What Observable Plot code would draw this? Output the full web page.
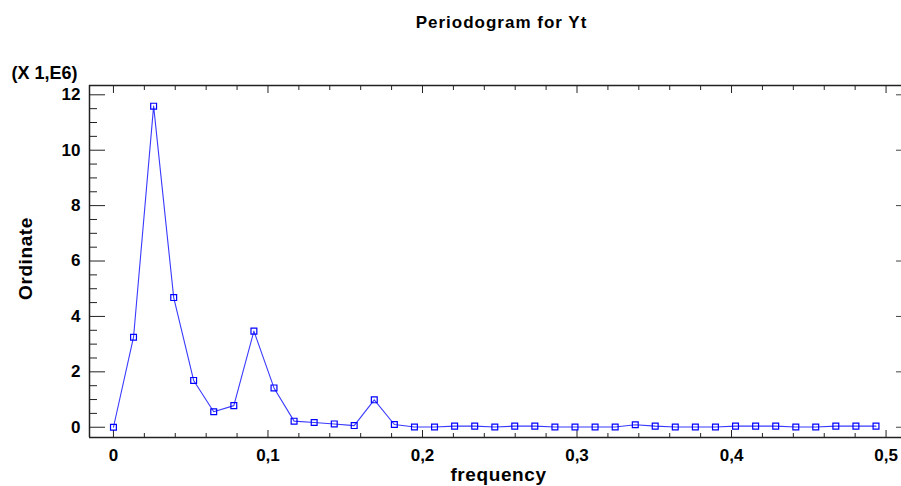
<!DOCTYPE html>
<html>
<head>
<meta charset="utf-8">
<script src="https://cdn.jsdelivr.net/npm/d3@7"></script>
<script src="https://cdn.jsdelivr.net/npm/@observablehq/plot@0.6"></script>
<style>
  html, body { margin: 0; padding: 0; background: #fff; overflow: hidden; }
  #chart svg { display: block; }
</style>
</head>
<body>
<div id="chart"></div>
<script>
// ---- data ----
const frequency = [0, 0.0130, 0.0260, 0.0390, 0.0519, 0.0649, 0.0779, 0.0909, 0.1039, 0.1169,
  0.1299, 0.1429, 0.1558, 0.1688, 0.1818, 0.1948, 0.2078, 0.2208, 0.2338, 0.2468,
  0.2597, 0.2727, 0.2857, 0.2987, 0.3117, 0.3247, 0.3377, 0.3506, 0.3636, 0.3766,
  0.3896, 0.4026, 0.4156, 0.4286, 0.4416, 0.4545, 0.4675, 0.4805, 0.4935];
const ordinate = [0, 3.25, 11.59, 4.68, 1.69, 0.56, 0.78, 3.47, 1.42, 0.22,
  0.17, 0.12, 0.06, 0.99, 0.10, 0.01, 0.01, 0.04, 0.04, 0.01,
  0.04, 0.04, 0.01, 0.01, 0.01, 0.01, 0.09, 0.04, 0.01, 0.01,
  0.01, 0.04, 0.04, 0.04, 0.01, 0.01, 0.04, 0.04, 0.04];
const xMajorTicks = [0, 0.1, 0.2, 0.3, 0.4, 0.5];
const xMinorTicks = [0.02, 0.04, 0.06, 0.08, 0.12, 0.14, 0.16, 0.18, 0.22, 0.24, 0.26, 0.28,
  0.32, 0.34, 0.36, 0.38, 0.42, 0.44, 0.46, 0.48];
const yMajorTicks = [0, 2, 4, 6, 8, 10, 12];
const yMinorTicks = [0.5, 1, 1.5, 2.5, 3, 3.5, 4.5, 5, 5.5, 6.5, 7, 7.5, 8.5, 9, 9.5, 10.5, 11, 11.5];
const xDomain = [-0.0155, 0.51];
const yDomain = [-0.37, 12.336];
const titleText = "Periodogram for Yt";
const xLabel = "frequency";
const yLabel = "Ordinate";
const scaleNote = "(X 1,E6)";

const data = frequency.map((f, i) => ({frequency: f, ordinate: ordinate[i]}));
const fmt = d => String(d).replace(".", ",");
const ink = "#222";
const blue = "#0000ff";
const font = "'Liberation Sans', Arial, sans-serif";

const chart = Plot.plot({
  width: 901,
  height: 486,
  marginLeft: 89,
  marginRight: 0,
  marginTop: 85,
  marginBottom: 49,
  style: {fontFamily: font, fontWeight: "bold", fontSize: "17px", color: "#000", background: "#fff"},
  x: {domain: xDomain},
  y: {domain: yDomain},
  marks: [
    // frame lines (left, top, bottom)
    Plot.ruleX([xDomain[0]], {stroke: ink, strokeWidth: 1.5}),
    Plot.ruleY([yDomain[0]], {stroke: ink, strokeWidth: 1.5}),
    Plot.ruleY([yDomain[1]], {stroke: ink, strokeWidth: 1.5}),
    // y axes (inward ticks)
    Plot.axisY(yMajorTicks, {anchor: "left", tickSize: -16, tickPadding: 25, tickFormat: fmt, stroke: ink, fill: "#000", fontSize: 17, label: null}),
    Plot.axisY(yMinorTicks, {anchor: "left", tickSize: -8, tickFormat: () => "", stroke: ink, label: null}),
    Plot.axisY(yMajorTicks, {anchor: "right", tickSize: -6, tickFormat: () => "", stroke: "#444", label: null}),
    // x axes (inward ticks)
    Plot.axisX(xMajorTicks, {anchor: "bottom", tickSize: -7, tickPadding: 18, tickFormat: fmt, stroke: ink, fill: "#000", fontSize: 17, label: null}),
    Plot.axisX(xMinorTicks, {anchor: "bottom", tickSize: -4, tickFormat: () => "", stroke: ink, label: null}),
    Plot.axisX(xMajorTicks, {anchor: "top", tickSize: -7, tickFormat: () => "", stroke: ink, label: null}),
    Plot.axisX(xMinorTicks, {anchor: "top", tickSize: -4, tickFormat: () => "", stroke: ink, label: null}),
    // series
    Plot.line(data, {x: "frequency", y: "ordinate", stroke: "#3a3aff", strokeWidth: 1.1}),
    Plot.dot(data, {x: "frequency", y: "ordinate", symbol: "square", r: 3.3, stroke: blue, strokeWidth: 1.2, fill: "none"}),
    // texts
    Plot.text([titleText], {frameAnchor: "top", lineAnchor: "top", textAnchor: "middle", dx: 6, dy: -70, fontSize: 17, fontWeight: "bold", fill: "#000"}),
    Plot.text([scaleNote], {frameAnchor: "top-left", lineAnchor: "top", textAnchor: "start", dx: -78, dy: -19, fontSize: 18, fontWeight: "bold", fill: "#000"}),
    Plot.text([yLabel], {frameAnchor: "left", lineAnchor: "middle", textAnchor: "middle", dx: -64, dy: -3, rotate: -90, fontSize: 19, fontWeight: "bold", fill: "#000"}),
    Plot.text([xLabel], {frameAnchor: "bottom", lineAnchor: "bottom", textAnchor: "middle", dx: 3, dy: 43, fontSize: 19, fontWeight: "bold", fill: "#000"})
  ]
});
// wider letter spacing on the titles, as in the reference
chart.querySelectorAll("text").forEach(t => {
  if (t.textContent === titleText) t.setAttribute("letter-spacing", "1");
  if (t.textContent === xLabel || t.textContent === yLabel) t.setAttribute("letter-spacing", "0.6");
});
document.getElementById("chart").appendChild(chart);
</script>
</body>
</html>
